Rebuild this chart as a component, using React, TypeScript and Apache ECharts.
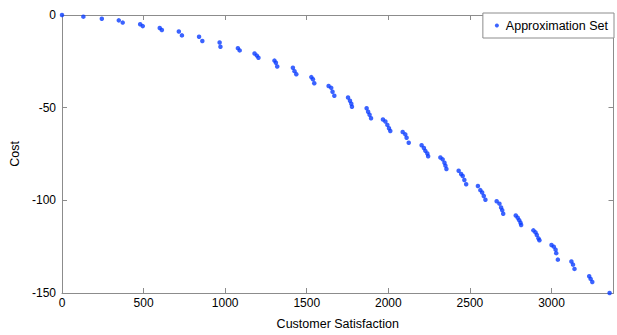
import React, { useEffect, useRef } from "react";
import * as echarts from "echarts";

const satisfaction = [
  0, 131, 244, 348, 372, 479, 495, 599, 612, 716, 735, 840, 860, 966, 971, 1078, 1089,
  1180, 1194, 1204, 1302, 1311, 1319, 1415, 1425, 1436, 1528, 1538, 1546,
  1634, 1650, 1658, 1669, 1753, 1765, 1773, 1777, 1867, 1876, 1885, 1894,
  1967, 1982, 1994, 2004, 2012, 2088, 2104, 2112, 2125, 2204, 2218, 2227, 2239, 2244,
  2319, 2333, 2344, 2350, 2356, 2431, 2446, 2456, 2466, 2477, 2549, 2564, 2575, 2585, 2595,
  2664, 2681, 2691, 2698, 2704, 2781, 2793, 2802, 2810, 2814, 2889, 2902, 2910, 2920, 2926,
  3000, 3014, 3025, 3029, 3039, 3122, 3132, 3141, 3231, 3240, 3250, 3356,
];
const cost = [
  0, -0.9, -2.0, -2.9, -4.1, -5.0, -6.0, -7.0, -8.1, -8.9, -11.0, -11.7, -14.0, -14.8, -17.1, -17.9, -19.1,
  -20.8, -21.9, -23.1, -24.6, -25.8, -27.8, -28.5, -30.3, -32.0, -33.5, -34.7, -36.8,
  -38.3, -39.3, -41.4, -43.6, -44.5, -46.3, -47.9, -49.5, -50.3, -52.2, -53.8, -55.7,
  -56.4, -57.5, -59.3, -61.1, -62.6, -63.1, -64.4, -66.2, -68.9, -70.3, -71.8, -73.3, -74.7, -76.2,
  -76.9, -77.9, -79.7, -81.3, -83.1, -84.0, -85.8, -86.9, -89.0, -91.3, -92.3, -94.5, -95.8, -97.7, -99.7,
  -100.5, -101.8, -103.9, -105.3, -107.2, -108.2, -109.4, -110.7, -112.1, -113.3, -116.2, -117.3, -118.7, -120.5, -121.5,
  -124.1, -125.0, -126.6, -128.5, -132.0, -133.0, -134.7, -137.0, -141.0, -142.4, -144.1, -150.0,
];
const xTicks = [0, 500, 1000, 1500, 2000, 2500, 3000];
const yTicks = [-150, -100, -50, 0];

const FONT = "Liberation Sans, Arial, Helvetica, sans-serif";
const FRAME = "#8c8c8c";

export default function App() {
  const ref = useRef<HTMLDivElement>(null);
  useEffect(() => {
    document.body.style.margin = "0";
    const chart = echarts.init(ref.current!, null, { renderer: "svg" });
    const xMin = 0;
    const xMax = 3380;
    const yMin = -150;
    const yMax = 0;
    const xLabel = (v: number) => (xTicks.includes(v) ? String(v) : "");
    const yLabel = (v: number) => (yTicks.includes(v) ? String(v) : "");
    const baseX = {
      type: "value",
      min: xMin,
      max: xMax,
      interval: 500,
      splitLine: { show: false },
      axisLine: { show: true, onZero: false, lineStyle: { color: FRAME, width: 1 } },
      axisTick: { show: true, inside: true, length: 5, lineStyle: { color: FRAME } },
    };
    const baseY = {
      type: "value",
      min: yMin,
      max: yMax,
      interval: 50,
      splitLine: { show: false },
      axisLine: { show: true, onZero: false, lineStyle: { color: FRAME, width: 1 } },
      axisTick: { show: true, inside: true, length: 5, lineStyle: { color: FRAME } },
    };
    chart.setOption({
      animation: false,
      backgroundColor: "#ffffff",
      grid: { left: 62, right: 3.5, top: 15, bottom: 39, containLabel: false },
      legend: {
        show: true,
        right: 3,
        top: 13,
        orient: "vertical",
        backgroundColor: "#ffffff",
        borderColor: FRAME,
        borderWidth: 1,
        borderRadius: 0,
        padding: [6, 6, 6, 12],
        itemWidth: 8,
        itemHeight: 4,
        itemGap: 4,
        icon: "circle",
        textStyle: { fontFamily: FONT, fontSize: 12.5, color: "#000" },
        data: ["Approximation Set"],
      },
      xAxis: [
        {
          ...baseX,
          position: "bottom",
          name: "Customer Satisfaction",
          nameLocation: "middle",
          nameGap: 24,
          nameTextStyle: { fontFamily: FONT, fontSize: 12.5, color: "#000" },
          axisLabel: { fontFamily: FONT, fontSize: 12, color: "#000", margin: 4, formatter: xLabel, showMaxLabel: false },
        },
        {
          ...baseX,
          position: "top",
          axisLabel: { show: false },
        },
      ],
      yAxis: [
        {
          ...baseY,
          position: "left",
          name: "Cost",
          nameLocation: "middle",
          nameGap: 35,
          nameTextStyle: { fontFamily: FONT, fontSize: 12.5, color: "#000" },
          axisLabel: { fontFamily: FONT, fontSize: 12, color: "#000", margin: 6, formatter: yLabel },
        },
        {
          ...baseY,
          position: "right",
          axisLabel: { show: false },
        },
      ],
      series: [
        {
          name: "Approximation Set",
          type: "scatter",
          xAxisIndex: 0,
          yAxisIndex: 0,
          symbol: "circle",
          symbolSize: 4.5,
          itemStyle: { color: "#0a3cff" },
          data: satisfaction.map((x, i) => [x, cost[i]]),
          clip: false,
        },
      ],
    });
    return () => chart.dispose();
  }, []);
  return (
    <div
      ref={ref}
      style={{ position: "absolute", left: 0, top: 0, width: 617, height: 335, background: "#fff" }}
    />
  );
}
